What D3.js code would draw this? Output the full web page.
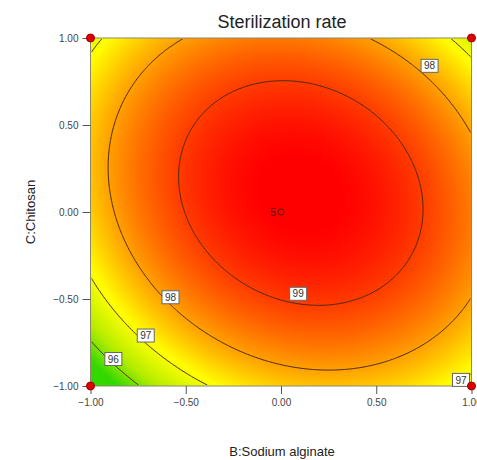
<!DOCTYPE html>
<html>
<head>
<meta charset="utf-8">
<script src="https://cdn.jsdelivr.net/npm/d3@7"></script>
<style>
  body { margin: 0; background: #fff; }
  text { font-family: Arial, "Liberation Sans", sans-serif; }
</style>
</head>
<body>
<script>
// Quadratic response model: b0, B, C, B^2, C^2, BC
const coefNames = ["b0", "B", "C", "B2", "C2", "BC"];
const coefs = [99.63, 0.40, 0.41, -1.67, -1.65, -0.48];

const levels = [96, 97, 98, 99];
const ticks = [-1, -0.5, 0, 0.5, 1];

// design points (factorial corners) and the centre point with 5 replicates
const designX = [-1, 1, -1, 1];
const designY = [-1, -1, 1, 1];
const centreCount = 5;

// contour label spots in coded units: [B, C, level]
const labelSpots = [
  [0.78, 0.84, 98],
  [0.09, -0.47, 99],
  [-0.58, -0.49, 98],
  [-0.71, -0.71, 97],
  [-0.88, -0.845, 96],
  [0.945, -0.965, 97]
];

const colorStops = [95.6, 96.3, 97.1, 98, 99, 99.6];
const colorRange = ["#33d800", "#b4ec00", "#ffff00", "#ffa000", "#ff3c00", "#ff0000"];

const width = 477, height = 460;
const plotL = 90.5, plotR = 471.5, plotT = 38, plotB = 386;

const x = d3.scaleLinear().domain([-1, 1]).range([plotL, plotR]);
const y = d3.scaleLinear().domain([-1, 1]).range([plotB, plotT]);
const color = d3.scaleLinear().domain(colorStops).range(colorRange).clamp(true);

function model(b, c) {
  const [b0, b1, b2, b11, b22, b12] = coefs;
  return b0 + b1 * b + b2 * c + b11 * b * b + b22 * c * c + b12 * b * c;
}

const svg = d3.select("body").append("svg")
  .attr("width", width)
  .attr("height", height);

// colour surface, one sample per pixel, painted on a canvas
const pw = Math.round(plotR - plotL), ph = Math.round(plotB - plotT);
const canvas = document.createElement("canvas");
canvas.width = pw; canvas.height = ph;
const ctx = canvas.getContext("2d");
const img = ctx.createImageData(pw, ph);
for (let j = 0; j < ph; j++) {
  for (let i = 0; i < pw; i++) {
    const v = model(x.invert(plotL + i + 0.5), y.invert(plotT + j + 0.5));
    const c = d3.rgb(color(v));
    const k = (j * pw + i) * 4;
    img.data[k] = c.r; img.data[k + 1] = c.g; img.data[k + 2] = c.b; img.data[k + 3] = 255;
  }
}
ctx.putImageData(img, 0, 0);

svg.append("image")
  .attr("x", plotL).attr("y", plotT)
  .attr("width", pw).attr("height", ph)
  .attr("preserveAspectRatio", "none")
  .attr("href", canvas.toDataURL());

// contour lines
const nx = 200, ny = 200;
const grid = new Array(nx * ny);
for (let j = 0; j < ny; j++) {
  for (let i = 0; i < nx; i++) {
    const b = -1 + 2 * (i + 0.5) / nx;
    const c = 1 - 2 * (j + 0.5) / ny;
    grid[j * nx + i] = model(b, c);
  }
}
const gx = d3.scaleLinear().domain([0, nx]).range([plotL, plotR]);
const gy = d3.scaleLinear().domain([0, ny]).range([plotT, plotB]);
const proj = d3.geoTransform({
  point(px, py) { this.stream.point(gx(px), gy(py)); }
});

svg.append("clipPath").attr("id", "inner")
  .append("rect")
  .attr("x", plotL + 1).attr("y", plotT + 1)
  .attr("width", plotR - plotL - 2).attr("height", plotB - plotT - 2);

svg.append("g")
  .attr("clip-path", "url(#inner)")
  .selectAll("path")
  .data(d3.contours().size([nx, ny]).thresholds(levels)(grid))
  .join("path")
  .attr("d", d3.geoPath(proj))
  .attr("fill", "none")
  .attr("stroke", "#4a2a10")
  .attr("stroke-width", 1);

// plot frame
svg.append("rect")
  .attr("x", plotL).attr("y", plotT)
  .attr("width", plotR - plotL).attr("height", plotB - plotT)
  .attr("fill", "none")
  .attr("stroke", "#8a8a6a")
  .attr("stroke-width", 1);

// axes
const xAxis = svg.append("g")
  .attr("transform", `translate(0,${plotB})`)
  .call(d3.axisBottom(x).tickValues(ticks).tickFormat(d3.format(".2f")).tickSize(8).tickSizeOuter(0).tickPadding(5));
const yAxis = svg.append("g")
  .attr("transform", `translate(${plotL},0)`)
  .call(d3.axisLeft(y).tickValues(ticks).tickFormat(d3.format(".2f")).tickSize(8).tickSizeOuter(0).tickPadding(4));
[xAxis, yAxis].forEach(a => {
  a.select(".domain").remove();
  a.selectAll("line").attr("stroke", "#555");
  a.selectAll("text").attr("fill", "#444").attr("font-size", 10)
    .attr("font-family", "Arial, 'Liberation Sans', sans-serif");
});
yAxis.selectAll("text").attr("dy", "0.35em");

// contour labels
const lab = svg.append("g").selectAll("g")
  .data(labelSpots)
  .join("g")
  .attr("transform", d => `translate(${x(d[0])},${y(d[1])})`);
lab.append("rect")
  .attr("x", -8.5).attr("y", -6.5)
  .attr("width", 17).attr("height", 13)
  .attr("fill", "#fff")
  .attr("stroke", "#666");
lab.append("text")
  .attr("text-anchor", "middle")
  .attr("dy", "0.36em")
  .attr("font-size", 10)
  .attr("fill", "#333")
  .text(d => d[2]);

// design points
svg.append("g").selectAll("circle")
  .data(designX.map((b, i) => [b, designY[i]]))
  .join("circle")
  .attr("cx", d => x(d[0]))
  .attr("cy", d => y(d[1]))
  .attr("r", 4)
  .attr("fill", "#e00000")
  .attr("stroke", "#900");

svg.append("circle")
  .attr("cx", x(0)).attr("cy", y(0))
  .attr("r", 3)
  .attr("fill", "none")
  .attr("stroke", "#5a1a00");
svg.append("text")
  .attr("x", x(0) - 5).attr("y", y(0))
  .attr("dy", "0.36em")
  .attr("text-anchor", "end")
  .attr("font-size", 11)
  .attr("fill", "#4a1000")
  .text(centreCount);

// titles
svg.append("text")
  .attr("x", 282).attr("y", 28)
  .attr("text-anchor", "middle")
  .attr("font-size", 18)
  .attr("fill", "#222")
  .text("Sterilization rate");

svg.append("text")
  .attr("x", 282).attr("y", 456)
  .attr("text-anchor", "middle")
  .attr("font-size", 13)
  .attr("fill", "#222")
  .text("B:Sodium alginate");

svg.append("text")
  .attr("transform", `translate(35,212) rotate(-90)`)
  .attr("text-anchor", "middle")
  .attr("font-size", 13)
  .attr("fill", "#222")
  .text("C:Chitosan");
</script>
</body>
</html>
